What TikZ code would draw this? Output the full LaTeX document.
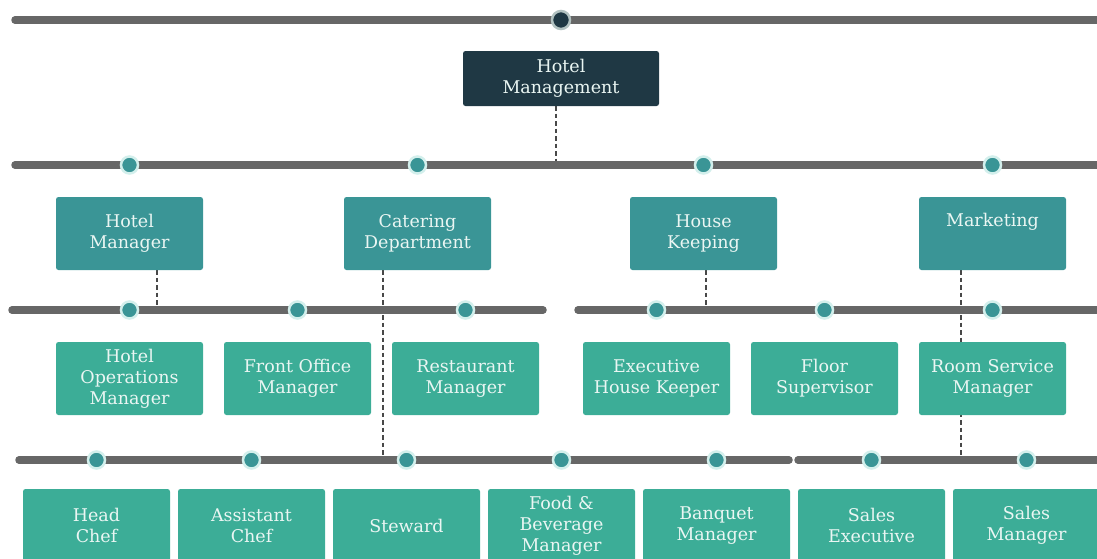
\documentclass[tikz,border=0pt]{standalone}
\usepackage{fontspec}
\setmainfont{DejaVu Serif}
\usetikzlibrary{backgrounds}
\definecolor{hmdark}{HTML}{1f3844}
\definecolor{hmteal}{HTML}{3a9596}
\definecolor{hmgreen}{HTML}{3cad97}
\definecolor{hmbar}{HTML}{676767}
\definecolor{hmtext}{HTML}{eaf6f3}
\definecolor{hmring}{HTML}{d3efec}

\tikzset{
	topbox/.style={fill=hmdark, text=hmtext, rounded corners=2.5pt, minimum width=196pt, minimum height=55pt, align=center, inner sep=0pt},
	deptbox/.style={fill=hmteal, text=hmtext, rounded corners=2.5pt, minimum width=147pt, minimum height=73pt, align=center, inner sep=0pt},
	rolebox/.style={fill=hmgreen, text=hmtext, rounded corners=2.5pt, minimum width=147pt, minimum height=73pt, align=center, inner sep=0pt},
	bar/.style={color=hmbar, line width=7.5pt, line cap=round},
	link/.style={color=hmbar!70!black, line width=1.8pt, dash pattern=on 4.5pt off 3pt},
	tealdot/.style={circle, fill=hmteal, draw=hmring, line width=2.5pt, minimum size=17pt, inner sep=0pt},
	topdot/.style={circle, fill=hmdark, draw=hmring!60!gray, line width=2.5pt, minimum size=18pt, inner sep=0pt}
}

\begin{document}
\begin{tikzpicture}[x=1pt, y=-1pt, font=\fontsize{17.5}{21}\selectfont]
	\useasboundingbox (0,0) rectangle (1097,558);

	% boxes
	\node[topbox] (tm) at (561,78.5) {Hotel\\Management};

	\node[deptbox] (hm) at (129.5,233.5) {Hotel\\Manager};
	\node[deptbox] (cd) at (417.5,233.5) {Catering\\Department};
	\node[deptbox] (hk) at (703.5,233.5) {House\\Keeping};
	\node[deptbox] (mk) at (992.5,233.5) {Marketing\\\strut};

	\node[rolebox] (hom) at (129.5,378.5) {Hotel\\Operations\\Manager};
	\node[rolebox] (fom) at (297.5,378.5) {Front Office\\Manager};
	\node[rolebox] (rm) at (465.5,378.5) {Restaurant\\Manager};
	\node[rolebox] (ehk) at (656.5,378.5) {Executive\\House Keeper};
	\node[rolebox] (fs) at (824.5,378.5) {Floor\\Supervisor};
	\node[rolebox] (rsm) at (992.5,378.5) {Room Service\\Manager};

	\node[rolebox] (hc) at (96.5,525.5) {Head\\Chef};
	\node[rolebox] (ac) at (251.5,525.5) {Assistant\\Chef};
	\node[rolebox] (sw) at (406.5,525.5) {Steward};
	\node[rolebox] (fbm) at (561.5,525.5) {Food \&\\Beverage\\Manager};
	\node[rolebox] (bm) at (716.5,525.5) {Banquet\\Manager};
	\node[rolebox] (se) at (871.5,525.5) {Sales\\Executive};
	\node[rolebox] (sm) at (1026.5,525.5) {Sales\\Manager};

	% bar ends and link ends
	\coordinate (b1l) at (15,20);   \coordinate (b1r) at (1110,20);
	\coordinate (b2l) at (15,165);  \coordinate (b2r) at (1110,165);
	\coordinate (b3l) at (12,310);  \coordinate (b3m) at (543,310);
	\coordinate (b3n) at (578,310); \coordinate (b3r) at (1110,310);
	\coordinate (b4l) at (19,460);  \coordinate (b4m) at (789,460);
	\coordinate (b4n) at (798,460); \coordinate (b4r) at (1110,460);

	\coordinate (ltm) at (556,165);
	\coordinate (lhm) at (157,310);
	\coordinate (lcd) at (383,460);
	\coordinate (lhk) at (706,310);
	\coordinate (lmk) at (961,460);

	\begin{scope}[on background layer]
		\draw[link] (tm.south -| ltm) -- (ltm);
		\draw[link] (hm.south -| lhm) -- (lhm);
		\draw[link] (cd.south -| lcd) -- (lcd);
		\draw[link] (hk.south -| lhk) -- (lhk);
		\draw[link] (mk.south -| lmk) -- (lmk);

		\draw[bar] (b1l) -- (b1r);
		\draw[bar] (b2l) -- (b2r);
		\draw[bar] (b3l) -- (b3m);
		\draw[bar] (b3n) -- (b3r);
		\draw[bar] (b4l) -- (b4m);
		\draw[bar] (b4n) -- (b4r);
	\end{scope}

	% dots on the bars
	\node[topdot] (d0) at (tm.north |- b1l) {};
	\foreach \n in {hm,cd,hk,mk}
		\node[tealdot] (d\n) at (\n.north |- b2l) {};
	\foreach \n in {hom,fom,rm,ehk,fs,rsm}
		\node[tealdot] (d\n) at (\n.north |- b3l) {};
	\foreach \n in {hc,ac,sw,fbm,bm,se,sm}
		\node[tealdot] (d\n) at (\n.north |- b4l) {};
\end{tikzpicture}
\end{document}
